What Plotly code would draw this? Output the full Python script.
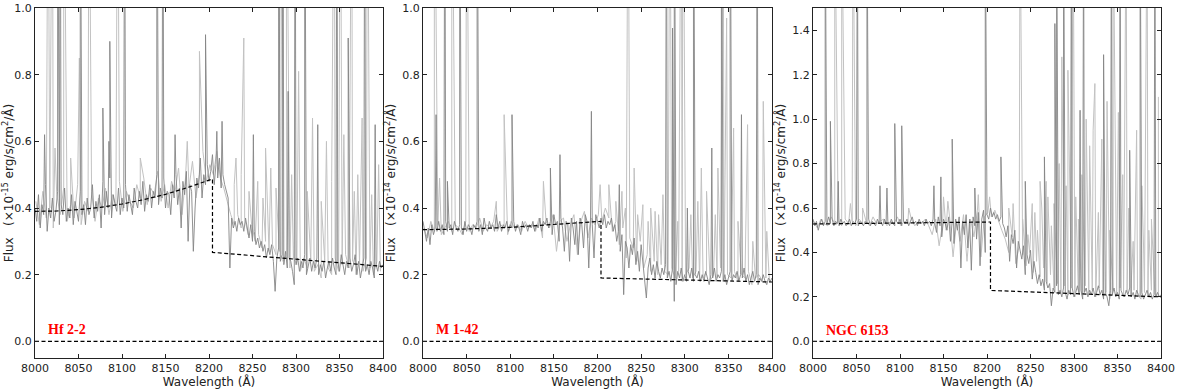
import plotly.graph_objects as go

# wavelength grids of the sampled spectra
wave = list(range(8000, 8401, 2))        # main (dark) spectrum, 2 A step
wave_light = list(range(8001, 8400, 4))  # second (light) spectrum, 4 A step

# --- Hf 2-2 ---
hf22_flux = [
    0.40, 0.36, 0.44, 0.34, 0.41, 0.38, 0.47, 0.33, 0.40, 0.37,
    0.43, 0.36, 0.39, 0.45, 0.35, 0.41, 0.38, 0.46, 0.36, 0.40,
    0.37, 0.44, 0.35, 0.42, 0.39, 0.36, 0.45, 0.38, 0.41, 0.35,
    0.43, 0.38, 0.40, 0.47, 0.37, 0.42, 0.39, 0.44, 0.34, 0.48,
    0.38, 0.45, 0.40, 0.49, 0.37, 0.44, 0.41, 0.39, 0.46, 0.38,
    0.43, 0.40, 0.47, 0.39, 0.44, 0.41, 0.38, 0.46, 0.42, 0.40,
    0.45, 0.41, 0.48, 0.39, 0.44, 0.42, 0.47, 0.40, 0.45, 0.43,
    0.50, 0.41, 0.46, 0.43, 0.49, 0.40, 0.45, 0.44, 0.38, 0.47,
    0.43, 0.50, 0.41, 0.46, 0.34, 0.48, 0.44, 0.51, 0.30, 0.47,
    0.45, 0.27, 0.40, 0.49, 0.46, 0.55, 0.43, 0.50, 0.47, 0.53,
    0.48, 0.51, 0.56, 0.47, 0.53, 0.49, 0.55, 0.46, 0.50, 0.47,
    0.45, 0.43, 0.22, 0.37, 0.34, 0.36, 0.33, 0.37, 0.35, 0.36,
    0.33, 0.37, 0.34, 0.31, 0.35, 0.30, 0.33, 0.29, 0.31, 0.28,
    0.30, 0.27, 0.29, 0.25, 0.28, 0.26, 0.29, 0.24, 0.15, 0.25,
    0.28, 0.24, 0.26, 0.23, 0.27, 0.22, 0.25, 0.24, 0.21, 0.17,
    0.23, 0.25, 0.21, 0.24, 0.22, 0.26, 0.20, 0.23, 0.25, 0.21,
    0.24, 0.22, 0.25, 0.20, 0.23, 0.21, 0.24, 0.19, 0.22, 0.24,
    0.21, 0.25, 0.22, 0.20, 0.24, 0.21, 0.26, 0.23, 0.20, 0.24,
    0.22, 0.25, 0.21, 0.23, 0.26, 0.20, 0.24, 0.19, 0.22, 0.25,
    0.21, 0.23, 0.20, 0.24, 0.22, 0.19, 0.23, 0.21, 0.24, 0.22,
    0.23,
]
hf22_flux_light = [
    0.42, 0.35, 0.45, 0.37, 0.40, 0.34, 0.44, 0.38, 0.46, 0.36,
    0.41, 0.37, 0.47, 0.35, 0.42, 0.39, 0.45, 0.36, 0.43, 0.40,
    0.46, 0.38, 0.44, 0.41, 0.48, 0.39, 0.45, 0.42, 0.40, 0.47,
    0.43, 0.49, 0.41, 0.46, 0.44, 0.51, 0.42, 0.47, 0.40, 0.48,
    0.45, 0.52, 0.38, 0.49, 0.46, 0.54, 0.43, 0.50, 0.57, 0.48,
    0.53, 0.50, 0.57, 0.49, 0.46, 0.42, 0.38, 0.35, 0.38, 0.34,
    0.37, 0.32, 0.35, 0.30, 0.32, 0.28, 0.30, 0.27, 0.29, 0.26,
    0.27, 0.24, 0.26, 0.22, 0.25, 0.23, 0.21, 0.25, 0.22, 0.24,
    0.21, 0.23, 0.19, 0.24, 0.22, 0.20, 0.25, 0.21, 0.23, 0.26,
    0.22, 0.24, 0.20, 0.23, 0.21, 0.25, 0.22, 0.20, 0.24, 0.21,
]
hf22_lines_dark = [
    (8026, 1.6), (8029, 1.6), (8052, 1.6), (8078, 0.70), (8086, 0.90),
    (8103, 1.6), (8140, 1.6), (8147, 1.6), (8196, 0.92), (8215, 0.66),
    (8280, 1.6), (8285, 1.6), (8299, 1.6), (8310, 1.6), (8347, 1.6),
    (8360, 0.91), (8379, 1.6), (8011, 0.62), (8085, 0.60), (8161, 0.62),
    (8209, 0.63), (8251, 0.62), (8291, 0.75), (8325, 0.65), (8391, 0.65),
]
hf22_lines_light = [
    (8015, 1.6), (8020, 1.6), (8033, 1.6), (8051, 0.85), (8062, 1.6),
    (8095, 1.6), (8189, 0.87), (8240, 0.91), (8282, 1.6), (8289, 1.6),
    (8303, 0.81), (8319, 0.67), (8344, 1.6), (8351, 1.6), (8364, 1.6),
    (8376, 0.67), (8382, 1.6), (8023, 0.58), (8041, 0.55), (8121, 0.55),
    (8175, 0.60), (8231, 0.55), (8265, 0.58), (8271, 0.52), (8335, 0.60),
    (8355, 0.62), (8371, 0.50), (8395, 0.53), (8229, 0.47), (8237, 0.50),
    (8246, 0.45), (8256, 0.48), (8262, 0.43), (8277, 0.46), (8295, 0.50),
    (8313, 0.45), (8329, 0.42), (8341, 0.48), (8367, 0.45), (8387, 0.44),
]
hf22_fit_wave = [8000, 8025, 8050, 8075, 8100, 8125, 8150, 8175, 8204, 8204, 8250, 8300, 8350, 8400]
hf22_fit_flux = [0.390, 0.391, 0.395, 0.402, 0.412, 0.425, 0.441, 0.461, 0.487, 0.267, 0.257, 0.246, 0.236, 0.225]

# --- M 1-42 ---
m142_flux = [
    0.36, 0.33, 0.30, 0.34, 0.29, 0.35, 0.32, 0.34, 0.33, 0.36,
    0.33, 0.35, 0.32, 0.36, 0.33, 0.34, 0.35, 0.32, 0.36, 0.34,
    0.33, 0.35, 0.34, 0.32, 0.36, 0.33, 0.35, 0.34, 0.32, 0.35,
    0.34, 0.36, 0.33, 0.35, 0.32, 0.37, 0.34, 0.33, 0.36, 0.34,
    0.35, 0.33, 0.38, 0.34, 0.36, 0.33, 0.35, 0.34, 0.36, 0.33,
    0.35, 0.34, 0.36, 0.33, 0.35, 0.34, 0.32, 0.36, 0.34, 0.35,
    0.33, 0.35, 0.34, 0.36, 0.33, 0.35, 0.34, 0.37, 0.33, 0.36,
    0.35, 0.37, 0.34, 0.36, 0.32, 0.38, 0.35, 0.36, 0.30, 0.37,
    0.34, 0.27, 0.36, 0.35, 0.24, 0.37, 0.34, 0.29, 0.36, 0.26,
    0.37, 0.35, 0.28, 0.38, 0.36, 0.22, 0.37, 0.35, 0.25, 0.38,
    0.36, 0.34, 0.37, 0.35, 0.38, 0.34, 0.36, 0.35, 0.37, 0.33,
    0.35, 0.30, 0.33, 0.27, 0.32, 0.14, 0.30, 0.28, 0.22, 0.29,
    0.26, 0.31, 0.23, 0.27, 0.21, 0.29, 0.24, 0.20, 0.13, 0.22,
    0.25, 0.20, 0.23, 0.19, 0.24, 0.21, 0.19, 0.22, 0.20, 0.23,
    0.19, 0.21, 0.18, 0.22, 0.12, 0.17, 0.21, 0.19, 0.22, 0.18,
    0.20, 0.18, 0.21, 0.19, 0.22, 0.18, 0.20, 0.19, 0.21, 0.18,
    0.20, 0.18, 0.21, 0.19, 0.17, 0.20, 0.19, 0.22, 0.18, 0.20,
    0.19, 0.21, 0.18, 0.20, 0.17, 0.19, 0.21, 0.18, 0.20, 0.19,
    0.21, 0.18, 0.20, 0.19, 0.22, 0.18, 0.20, 0.17, 0.19, 0.21,
    0.18, 0.20, 0.17, 0.19, 0.18, 0.20, 0.18, 0.17, 0.19, 0.18,
    0.19,
]
m142_flux_light = [
    0.34, 0.31, 0.36, 0.33, 0.35, 0.32, 0.34, 0.36, 0.33, 0.35,
    0.34, 0.32, 0.36, 0.33, 0.35, 0.34, 0.37, 0.33, 0.35, 0.34,
    0.36, 0.33, 0.35, 0.34, 0.32, 0.36, 0.34, 0.35, 0.33, 0.36,
    0.34, 0.35, 0.33, 0.37, 0.31, 0.36, 0.34, 0.38, 0.27, 0.36,
    0.37, 0.30, 0.35, 0.38, 0.26, 0.36, 0.39, 0.31, 0.37, 0.35,
    0.38, 0.36, 0.40, 0.37, 0.33, 0.36, 0.29, 0.34, 0.25, 0.31,
    0.28, 0.24, 0.30, 0.22, 0.26, 0.21, 0.24, 0.20, 0.23, 0.21,
    0.20, 0.22, 0.19, 0.21, 0.18, 0.20, 0.22, 0.19, 0.21, 0.18,
    0.19, 0.21, 0.18, 0.20, 0.19, 0.22, 0.18, 0.20, 0.19, 0.21,
    0.18, 0.20, 0.19, 0.21, 0.17, 0.19, 0.20, 0.18, 0.19, 0.18,
]
m142_lines_dark = [
    (8015, 0.68), (8025, 1.6), (8042, 1.6), (8062, 1.6), (8102, 0.68),
    (8157, 0.56), (8193, 0.69), (8279, 1.6), (8288, 1.6), (8310, 1.6),
    (8342, 1.6), (8352, 1.6), (8383, 1.6), (8286, 0.94), (8365, 0.68),
    (8028, 0.48), (8146, 0.52), (8225, 0.47), (8303, 0.40), (8331, 0.58),
]
m142_lines_light = [
    (8013, 1.6), (8019, 0.49), (8033, 1.6), (8050, 1.6), (8084, 0.42),
    (8093, 0.68), (8138, 0.48), (8203, 0.47), (8213, 0.47), (8235, 1.6),
    (8242, 0.52), (8283, 1.6), (8296, 1.6), (8298, 1.6), (8319, 0.52),
    (8338, 0.52), (8344, 1.6), (8348, 0.97), (8356, 0.64), (8372, 0.65),
    (8390, 0.72), (8261, 0.40), (8270, 0.38), (8325, 0.45), (8221, 0.42),
    (8228, 0.45), (8232, 0.40), (8246, 0.38), (8252, 0.41), (8258, 0.36),
    (8266, 0.39), (8275, 0.44), (8292, 0.36), (8307, 0.38), (8315, 0.42),
    (8335, 0.38), (8361, 0.36), (8378, 0.30), (8394, 0.33),
]
m142_fit_wave = [8000, 8050, 8100, 8150, 8204, 8204, 8300, 8400]
m142_fit_flux = [0.335, 0.337, 0.342, 0.350, 0.360, 0.190, 0.184, 0.178]

# --- NGC 6153 ---
ngc6153_flux = [
    0.55, 0.52, 0.54, 0.50, 0.53, 0.55, 0.52, 0.54, 0.53, 0.56,
    0.53, 0.55, 0.52, 0.54, 0.53, 0.52, 0.55, 0.53, 0.54, 0.52,
    0.53, 0.55, 0.52, 0.54, 0.53, 0.55, 0.52, 0.54, 0.53, 0.52,
    0.54, 0.53, 0.55, 0.52, 0.54, 0.53, 0.52, 0.55, 0.53, 0.54,
    0.52, 0.55, 0.53, 0.54, 0.52, 0.55, 0.53, 0.52, 0.54, 0.53,
    0.55, 0.52, 0.54, 0.53, 0.55, 0.52, 0.54, 0.56, 0.53, 0.54,
    0.52, 0.55, 0.53, 0.54, 0.52, 0.55, 0.53, 0.54, 0.52, 0.55,
    0.53, 0.49, 0.56, 0.52, 0.47, 0.55, 0.53, 0.50, 0.56, 0.45,
    0.54, 0.44, 0.55, 0.50, 0.56, 0.33, 0.54, 0.48, 0.57, 0.42,
    0.55, 0.32, 0.56, 0.52, 0.46, 0.58, 0.34, 0.55, 0.59, 0.40,
    0.57, 0.55, 0.60, 0.56, 0.58, 0.55, 0.57, 0.54, 0.56, 0.53,
    0.51, 0.47, 0.52, 0.36, 0.48, 0.44, 0.50, 0.33, 0.45, 0.41,
    0.37, 0.43, 0.30, 0.39, 0.35, 0.41, 0.28, 0.36, 0.31, 0.26,
    0.30, 0.25, 0.28, 0.23, 0.27, 0.24, 0.26, 0.16, 0.24, 0.22,
    0.25, 0.21, 0.23, 0.20, 0.24, 0.22, 0.19, 0.23, 0.21, 0.24,
    0.20, 0.22, 0.25, 0.21, 0.23, 0.19, 0.22, 0.24, 0.20, 0.23,
    0.21, 0.24, 0.20, 0.22, 0.25, 0.21, 0.23, 0.19, 0.22, 0.20,
    0.16, 0.23, 0.21, 0.24, 0.20, 0.22, 0.19, 0.23, 0.21, 0.20,
    0.23, 0.21, 0.24, 0.20, 0.22, 0.19, 0.23, 0.21, 0.20, 0.22,
    0.19, 0.21, 0.23, 0.20, 0.22, 0.19, 0.21, 0.20, 0.22, 0.20,
    0.21,
]
ngc6153_flux_light = [
    0.54, 0.51, 0.55, 0.53, 0.52, 0.56, 0.53, 0.54, 0.52, 0.55,
    0.53, 0.54, 0.52, 0.55, 0.53, 0.54, 0.52, 0.56, 0.53, 0.54,
    0.55, 0.52, 0.54, 0.53, 0.56, 0.52, 0.54, 0.53, 0.55, 0.52,
    0.54, 0.53, 0.55, 0.52, 0.48, 0.55, 0.43, 0.53, 0.50, 0.56,
    0.38, 0.54, 0.45, 0.57, 0.36, 0.55, 0.47, 0.59, 0.38, 0.56,
    0.58, 0.56, 0.59, 0.54, 0.50, 0.46, 0.40, 0.47, 0.35, 0.43,
    0.39, 0.34, 0.40, 0.31, 0.36, 0.29, 0.33, 0.26, 0.30, 0.24,
    0.26, 0.22, 0.25, 0.21, 0.24, 0.20, 0.23, 0.21, 0.25, 0.22,
    0.23, 0.20, 0.24, 0.21, 0.22, 0.19, 0.23, 0.21, 0.24, 0.20,
    0.22, 0.20, 0.23, 0.21, 0.19, 0.22, 0.20, 0.23, 0.21, 0.20,
]
ngc6153_lines_dark = [
    (8014, 2.0), (8020, 0.99), (8029, 0.72), (8051, 2.0), (8062, 2.0),
    (8077, 0.70), (8085, 0.69), (8094, 0.98), (8102, 0.97), (8139, 0.70),
    (8147, 0.74), (8160, 0.91), (8186, 0.69), (8198, 2.0), (8216, 0.83),
    (8244, 0.72), (8266, 0.83), (8280, 2.0), (8288, 2.0), (8297, 2.0),
    (8311, 2.0), (8343, 2.0), (8353, 2.0), (8376, 2.0), (8393, 2.0),
    (8278, 1.43), (8307, 1.04), (8334, 1.29), (8364, 0.86),
]
ngc6153_lines_light = [
    (8025, 2.0), (8033, 2.0), (8046, 2.0), (8238, 2.0), (8299, 2.0),
    (8345, 2.0), (8360, 2.0), (8384, 2.0), (8261, 0.72), (8286, 1.28),
    (8293, 1.22), (8314, 1.00), (8324, 1.16), (8332, 0.91), (8351, 1.03),
    (8043, 0.62), (8057, 0.60), (8110, 0.60), (8150, 0.65), (8155, 0.63),
    (8190, 0.66), (8203, 0.65), (8225, 0.60), (8230, 0.62), (8252, 0.62),
    (8255, 0.58), (8268, 0.72), (8270, 0.65), (8274, 0.52), (8283, 0.80),
    (8302, 0.65), (8318, 0.88), (8322, 0.95), (8328, 0.58), (8338, 1.08),
    (8348, 0.58), (8356, 0.75), (8368, 0.45), (8372, 0.95), (8380, 0.42),
    (8389, 0.55), (8397, 1.10), (8241, 0.55), (8247, 0.48), (8258, 0.50),
    (8263, 0.60), (8277, 0.62), (8291, 0.70), (8305, 0.55), (8309, 0.75),
    (8316, 0.48), (8341, 0.50), (8363, 0.60), (8378, 0.70), (8386, 0.50),
]
ngc6153_fit_wave = [8000, 8100, 8204, 8204, 8300, 8400]
ngc6153_fit_flux = [0.528, 0.532, 0.537, 0.229, 0.215, 0.200]

panels = [
    ("Hf 2-2", hf22_flux, hf22_flux_light, hf22_lines_dark, hf22_lines_light,
     hf22_fit_wave, hf22_fit_flux, 1.0, -15, 0.036),
    ("M 1-42", m142_flux, m142_flux_light, m142_lines_dark, m142_lines_light,
     m142_fit_wave, m142_fit_flux, 1.0, -14, 0.036),
    ("NGC 6153", ngc6153_flux, ngc6153_flux_light, ngc6153_lines_dark, ngc6153_lines_light,
     ngc6153_fit_wave, ngc6153_fit_flux, 1.5, -14, 0.05),
]

W, H = 1177, 389
domains = [(35, 383), (423, 772), (813, 1161)]
AXIS = "#222222"
DASH = "4px,2.5px"


def merge_lines(grid, flux, lines):
    """Spectrum samples plus emission line peaks, ordered by wavelength."""
    pts = list(zip(grid, flux)) + list(lines)
    pts.sort(key=lambda p: p[0])
    return [p[0] for p in pts], [p[1] for p in pts]


fig = go.Figure()

for i, (name, flux, flux_light, dark, light, fit_w, fit_f, ymax, power, label_y) in enumerate(panels):
    n = "" if i == 0 else str(i + 1)
    xa, ya = "x" + n, "y" + n

    lx, ly = merge_lines(wave_light, flux_light, light)
    fig.add_scatter(x=lx, y=ly, xaxis=xa, yaxis=ya, mode="lines",
                    line=dict(color="#c2c2c2", width=1), showlegend=False)
    dx, dy = merge_lines(wave, flux, dark)
    fig.add_scatter(x=dx, y=dy, xaxis=xa, yaxis=ya, mode="lines",
                    line=dict(color="#858585", width=0.9), showlegend=False)

    fig.add_scatter(x=fit_w, y=fit_f, xaxis=xa, yaxis=ya, mode="lines",
                    line=dict(color="black", width=1.2, dash=DASH), showlegend=False)
    fig.add_scatter(x=[8000, 8400], y=[0, 0], xaxis=xa, yaxis=ya, mode="lines",
                    line=dict(color="black", width=1.1, dash=DASH), showlegend=False)

    fig.add_annotation(x=8013, y=label_y, xref=xa, yref=ya,
                       text="<b>" + name + "</b>", showarrow=False, xanchor="left",
                       font=dict(family="Liberation Serif", size=14, color="red"))

    x0, x1 = domains[i]
    fig.layout["xaxis" + n] = dict(
        domain=[x0 / W, x1 / W], anchor=ya, range=[8000, 8400], automargin=False,
        tickmode="array", tickvals=list(range(8000, 8401, 50)),
        ticks="inside", ticklen=4, tickcolor=AXIS, mirror="ticks",
        showline=True, linecolor=AXIS, linewidth=1, showgrid=False, zeroline=False,
        title=dict(text="Wavelength (Å)", standoff=0, font=dict(size=12)),
    )
    fig.layout["yaxis" + n] = dict(
        domain=[0, 1], anchor=xa, range=[-0.05 * ymax, ymax], automargin=False,
        tickmode="array", tickvals=[v / 10 for v in range(0, int(ymax * 10) + 1, 2)],
        tickformat=".1f",
        ticks="inside", ticklen=4, tickcolor=AXIS, mirror="ticks",
        showline=True, linecolor=AXIS, linewidth=1, showgrid=False, zeroline=False,
        title=dict(text="Flux   (×10<sup>%d</sup> erg/s/cm<sup>2</sup>/Å)" % power,
                   standoff=4, font=dict(size=12)),
    )

fig.update_layout(
    width=W, height=H,
    margin=dict(l=0, r=0, t=8, b=31),
    paper_bgcolor="white", plot_bgcolor="white",
    font=dict(family="DejaVu Sans", size=11, color="#222222"),
)

# the page body has a default margin; drop it so the figure fills the window
fig.write_html("out.html", config={"displayModeBar": False},
               post_script="document.body.style.margin = '0';")
